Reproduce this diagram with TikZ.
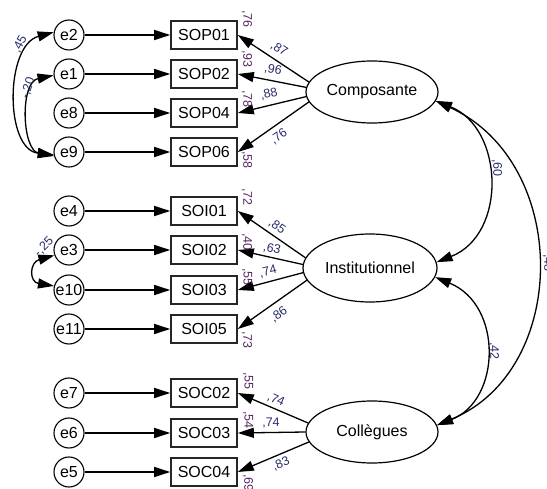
\documentclass[tikz,border=0pt]{standalone}
\usepackage{fontspec}
\setmainfont{Liberation Sans}
\usetikzlibrary{arrows.meta,shapes.geometric}
\definecolor{loadc}{RGB}{40,45,105}
\definecolor{rsqc}{RGB}{85,35,95}
\begin{document}
\begin{tikzpicture}[x=1pt,y=-1pt,
  err/.style={circle,draw,line width=1.1pt,minimum size=30pt,inner sep=0pt,font=\fontsize{16}{18}\selectfont},
  obs/.style={rectangle,draw=black!85,line width=1.6pt,minimum width=66pt,minimum height=28pt,inner sep=0pt,font=\fontsize{16}{18}\selectfont},
  lat/.style={ellipse,draw,line width=1.2pt,minimum width=132pt,minimum height=62pt,inner sep=0pt,font=\fontsize{16}{18}\selectfont},
  regr/.style={line width=1.3pt,-{Triangle[length=16pt,width=10pt]}},
  cov/.style={line width=1.3pt,{Triangle[length=16pt,width=10pt]}-{Triangle[length=16pt,width=10pt]}},
  lbl/.style={font=\fontsize{12.5}{14}\selectfont,text=loadc,inner sep=0pt},
  rsq/.style={lbl,text=rsqc,rotate=-90},
]
\useasboundingbox (0,0) rectangle (547,489);
\clip (0,0) rectangle (547,489);

% error terms
\node[err] (e2)  at (69,35)  {e2};
\node[err] (e1)  at (69,74)  {e1};
\node[err] (e8)  at (69,113) {e8};
\node[err] (e9)  at (69,152) {e9};
\node[err] (e4)  at (69,211) {e4};
\node[err] (e3)  at (69,250) {e3};
\node[err] (e10) at (69,290) {e10};
\node[err] (e11) at (69,329) {e11};
\node[err] (e7)  at (69,393) {e7};
\node[err] (e6)  at (69,433) {e6};
\node[err] (e5)  at (69,472) {e5};

% observed variables
\node[obs] (SOP01) at (204,35)  {SOP01};
\node[obs] (SOP02) at (204,74)  {SOP02};
\node[obs] (SOP04) at (204,113) {SOP04};
\node[obs] (SOP06) at (204,152) {SOP06};
\node[obs] (SOI01) at (204,211) {SOI01};
\node[obs] (SOI02) at (204,250) {SOI02};
\node[obs] (SOI03) at (204,290) {SOI03};
\node[obs] (SOI05) at (204,329) {SOI05};
\node[obs] (SOC02) at (204,393) {SOC02};
\node[obs] (SOC03) at (204,433) {SOC03};
\node[obs] (SOC04) at (204,472) {SOC04};

% latent variables
\node[lat] (Comp) at (372,92)  {Composante};
\node[lat,minimum width=134pt,minimum height=68pt] (Inst) at (370,268) {Institutionnel};
\node[lat] (Coll) at (372,432) {Collègues};

% error arrows
\foreach \e/\b in {e2/SOP01,e1/SOP02,e8/SOP04,e9/SOP06,e4/SOI01,e3/SOI02,e10/SOI03,e11/SOI05,e7/SOC02,e6/SOC03,e5/SOC04}
  \draw[regr] (\e) -- (\b);

% loadings
\draw[regr] (Comp.171) -- (SOP01.east);
\draw[regr] (Comp.176) -- (SOP02.east);
\draw[regr] (Comp.184) -- (SOP04.east);
\draw[regr] (Comp.189) -- (SOP06.east);
\draw[regr] (Inst.171) -- (SOI01.east);
\draw[regr] (Inst.177) -- (SOI02.east);
\draw[regr] (Inst.184) -- (SOI03.east);
\draw[regr] (Inst.191) -- (SOI05.east);
\draw[regr] (Coll.172) -- (SOC02.east);
\draw[regr] (Coll.180) -- (SOC03.east);
\draw[regr] (Coll.189) -- (SOC04.east);

% loading labels
\node[lbl,rotate=-32.8] at (279,49)  {,87};
\node[lbl,rotate=-11]   at (273,70)  {,96};
\node[lbl,rotate=12.3]  at (269,94)  {,88};
\node[lbl,rotate=35.5]  at (279,137) {,76};
\node[lbl,rotate=-35]   at (277,227) {,85};
\node[lbl,rotate=-12.6] at (272,249) {,63};
\node[lbl,rotate=14.2]  at (268,272) {,74};
\node[lbl,rotate=35]    at (279,315) {,86};
\node[lbl,rotate=-23.5] at (276,400) {,74};
\node[lbl]              at (271,423) {,74};
\node[lbl,rotate=23.2]  at (281,464) {,83};

% R squared labels
\node[rsq] at (247,19)  {,76};
\node[rsq] at (247,59)  {,93};
\node[rsq] at (247,99)  {,78};
\node[rsq] at (247,160) {,58};
\node[rsq] at (247,197) {,72};
\node[rsq] at (247,242) {,40};
\node[rsq] at (247,277) {,55};
\node[rsq] at (247,340) {,73};
\node[rsq] at (248,381) {,55};
\node[rsq] at (248,420) {,54};
\node[rsq] at (248,483) {,69};

% error covariances
\draw[cov] (e2.170) .. controls +(-49,13) and +(-49,-5) .. (e9.190);
\draw[cov] (e1.185) .. controls +(-34,7) and +(-32,-6) .. (e9.195);
\draw[cov] (e3.200) .. controls +(-25,7) and +(-25,-4) .. (e10.165);
\node[lbl,rotate=62] at (20,44)  {,45};
\node[lbl,rotate=72] at (28,88)  {-,20};
\node[lbl,rotate=45] at (44,247) {-,25};

% factor covariances
\draw[cov] (Comp.-8) .. controls +(68,27) and +(71,-28) .. (Inst.5);
\draw[cov] (Comp.-8) .. controls +(135,62) and +(133,-55) .. (Coll.6);
\draw[cov] (Inst.-8) .. controls +(68,28) and +(64,-25) .. (Coll.6);
\node[lbl,rotate=-90] at (497,168) {,60};
\node[lbl,rotate=-90] at (494,351) {,42};
\node[lbl,rotate=-90] at (548,263) {,48};
\end{tikzpicture}
\end{document}
